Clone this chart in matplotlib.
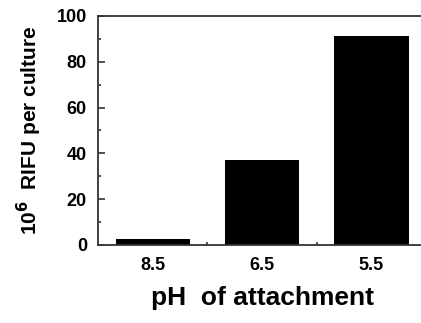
import matplotlib
matplotlib.use("Agg")
import matplotlib.pyplot as plt
import numpy as np
from matplotlib.ticker import MultipleLocator, FixedLocator

plt.rcParams['font.family'] = ['Liberation Sans', 'DejaVu Sans']
plt.rcParams['font.weight'] = 'bold'

# data
ph_labels = ['8.5', '6.5', '5.5']
rifu = [2.5, 37, 91.3]

fig = plt.figure(figsize=(4.21, 3.23), dpi=100)
ax = fig.add_axes([0.233, 0.2415, 0.779, 0.709])

x = np.arange(len(ph_labels))
ax.bar(x, rifu, width=0.68, color='black')

ax.set_xlim(-0.5, 2.5)
ax.set_ylim(0, 100)

ax.yaxis.set_major_locator(MultipleLocator(20))
ax.yaxis.set_minor_locator(MultipleLocator(10))
ax.set_xticks(x)
ax.set_xticklabels(ph_labels)
ax.xaxis.set_minor_locator(FixedLocator([0.5, 1.5]))

ax.tick_params(axis='y', which='major', direction='in', length=5, width=1.2,
               labelsize=13, pad=8, color='#333333')
ax.tick_params(axis='y', which='minor', direction='in', length=2, width=1.2,
               color='#333333')
ax.tick_params(axis='x', which='major', length=0, labelsize=13, pad=9)
ax.tick_params(axis='x', which='minor', direction='in', length=2, width=1.2,
               color='#333333')

for s in ax.spines.values():
    s.set_linewidth(1.3)
    s.set_color('#333333')

ax.set_ylabel('10$^{\\mathbf{6}}$  RIFU per culture', fontsize=15,
              fontweight='bold', labelpad=9)
ax.set_xlabel('pH  of attachment', fontsize=19, fontweight='bold', labelpad=8)

fig.savefig('out.png', dpi=100)
